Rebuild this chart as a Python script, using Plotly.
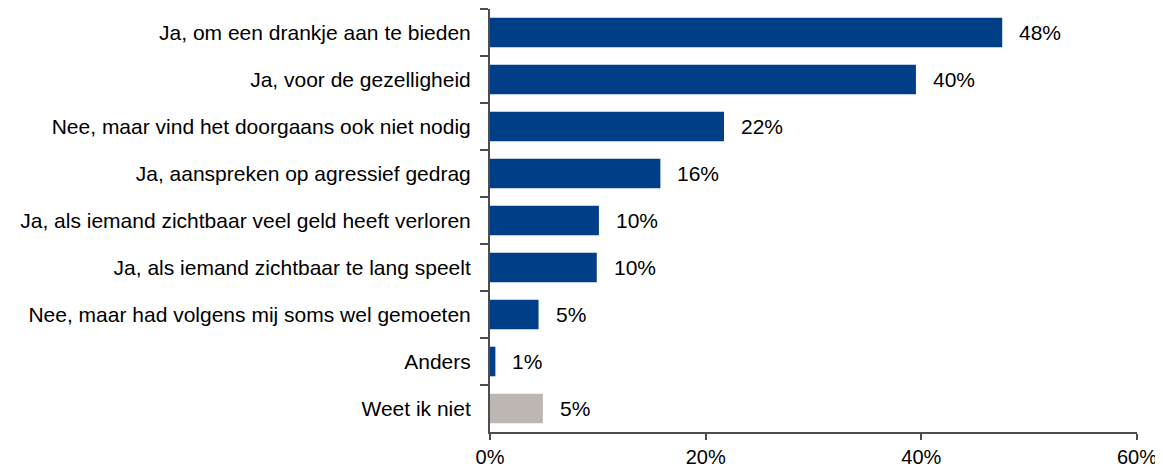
import plotly.graph_objects as go

categories = [
    "Ja, om een drankje aan te bieden",
    "Ja, voor de gezelligheid",
    "Nee, maar vind het doorgaans ook niet nodig",
    "Ja, aanspreken op agressief gedrag",
    "Ja, als iemand zichtbaar veel geld heeft verloren",
    "Ja, als iemand zichtbaar te lang speelt",
    "Nee, maar had volgens mij soms wel gemoeten",
    "Anders",
    "Weet ik niet",
]
values = [47.5, 39.5, 21.7, 15.8, 10.1, 9.9, 4.5, 0.5, 4.9]
labels = ["48%", "40%", "22%", "16%", "10%", "10%", "5%", "1%", "5%"]
bar_colors = ["#003F87"] * 8 + ["#BDB6B2"]

FONT = "Liberation Sans, Arial, sans-serif"
AXIS_COLOR = "#4d4d4d"


def make_figure():
    fig = go.Figure()
    fig.add_trace(go.Bar(x=values, y=categories, orientation="h",
                         marker_color=bar_colors, marker_line_width=0,
                         hoverinfo="skip"))

    for cat, val, lab in zip(categories, values, labels):
        fig.add_annotation(x=val, y=cat, text=lab, showarrow=False,
                           xanchor="left", xshift=15,
                           font=dict(size=21, color="black", family=FONT))

    # page body adds an 8px margin, so the figure is 8px smaller than the window
    fig.update_layout(
        width=1155, height=461,
        margin=dict(l=482, r=26, t=1, b=37, autoexpand=False),
        plot_bgcolor="white", paper_bgcolor="white",
        font=dict(family=FONT, size=21, color="black"),
        bargap=0.37,
        showlegend=False,
    )
    fig.update_xaxes(range=[0, 60], tickvals=[0, 20, 40, 60],
                     ticktext=["0%", "20%", "40%", "60%"],
                     showgrid=False, zeroline=False, automargin=False,
                     showline=True, linecolor=AXIS_COLOR, linewidth=2,
                     ticks="outside", ticklen=6, tickcolor=AXIS_COLOR, tickwidth=2,
                     tickfont=dict(size=20))
    fig.update_yaxes(type="category", autorange="reversed", automargin=False,
                     showgrid=False, zeroline=False,
                     showline=True, linecolor=AXIS_COLOR, linewidth=2,
                     ticks="outside", tickson="boundaries", ticklen=8,
                     tickcolor=AXIS_COLOR, tickwidth=2, ticklabelstandoff=13)
    return fig


def main():
    fig = make_figure()
    fig.write_html("out.html")


if __name__ == "__main__":
    main()
